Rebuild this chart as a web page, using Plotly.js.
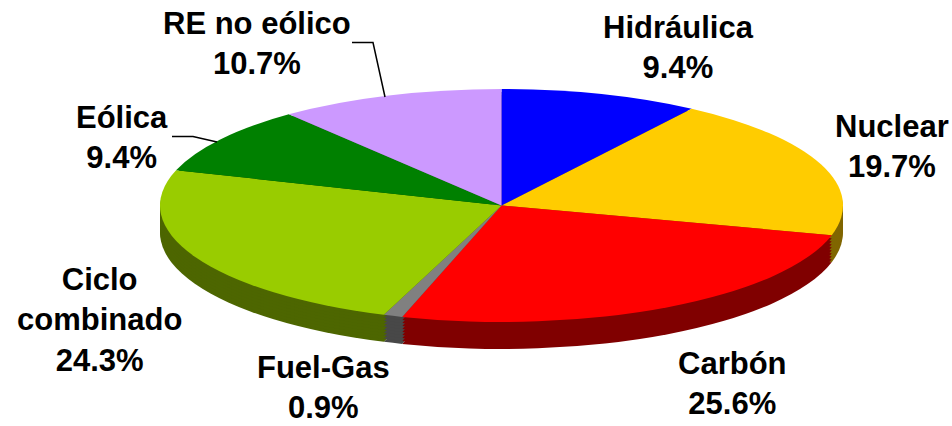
<!DOCTYPE html>
<html><head><meta charset="utf-8">
<script src="https://cdn.plot.ly/plotly-3.0.1.min.js"></script>
<style>html,body{margin:0;padding:0;background:#fff;overflow:hidden}#chart{width:952px;height:426px}</style>
</head><body><div id="chart"></div>
<script>
const categories = ['Hidráulica','Nuclear','Carbón','Fuel-Gas','Ciclo combinado','Eólica','RE no eólico'];
const shares = [9.4,19.7,25.6,0.9,24.3,9.4,10.7];
const topColors = ['#0000ff','#ffcc00','#ff0000','#808080','#99cc00','#008000','#cc99ff'];
const sideColors = ['#000080','#806600','#800000','#484848','#4d6600','#004000','#664c80'];
const labelLines = [
  ['Hidráulica','9.4%',678,28,66],
  ['Nuclear','19.7%',892,127,166],
  ['Carbón','25.6%',732,364,402],
  ['Fuel-Gas','0.9%',323,368,407],
  ['Ciclo<br>combinado','24.3%',99,280,359],
  ['Eólica','9.4%',122,118,157],
  ['RE no eólico','10.7%',257,24,63]
];
const depthLevels = [27,24,21,18,15,12,9,6,3];
const W=952,H=426,cx=501.5,cy=205.5,rx=341.5,ry=116.5;
const pie = (colors)=>({type:'pie',values:shares,labels:categories,sort:false,direction:'clockwise',rotation:0,
  textinfo:'none',hoverinfo:'skip',showlegend:false,marker:{colors:colors,line:{width:0}},domain:{x:[0,1],y:[0,1]}});
const traces = depthLevels.map(()=>pie(sideColors)).concat([pie(topColors)]);
const annotations = labelLines.map(l=>{
  const text = l[0]+'<br>'+l[1];
  const yMid = (l[3]+l[4])/2;
  return {xref:'paper',yref:'paper',x:l[2]/W,y:1-yMid/H,text:text,showarrow:false,xanchor:'center',yanchor:'middle',
    align:'center',font:{family:'Liberation Sans, Arial, sans-serif',size:31,color:'#000',weight:700}};
});
const layout = {width:W,height:H,margin:{l:0,r:0,t:0,b:0},paper_bgcolor:'#fff',plot_bgcolor:'#fff',showlegend:false,
  annotations:annotations,
  shapes:[
   {type:'path',xref:'paper',yref:'paper',path:`M ${172/W} ${1-136.5/H} L ${193/W} ${1-136.5/H} L ${217/W} ${1-142/H}`,line:{color:'#000',width:1.5}},
   {type:'path',xref:'paper',yref:'paper',path:`M ${352/W} ${1-42.5/H} L ${373/W} ${1-42.5/H} L ${385/W} ${1-97/H}`,line:{color:'#000',width:1.5}}
  ]};
Plotly.newPlot('chart',traces,layout,{displayModeBar:false,staticPlot:true}).then(gd=>{
  const groups = gd.querySelectorAll('.pielayer .trace');
  const r = 213, pcx = W/2, pcy = H/2;
  groups.forEach((g,i)=>{
    const dy = i<depthLevels.length ? depthLevels[i] : 0;
    g.setAttribute('transform',`translate(${cx},${cy+dy}) scale(${rx/r},${ry/r}) translate(${-pcx},${-pcy})`);
  });
});
</script></body></html>
